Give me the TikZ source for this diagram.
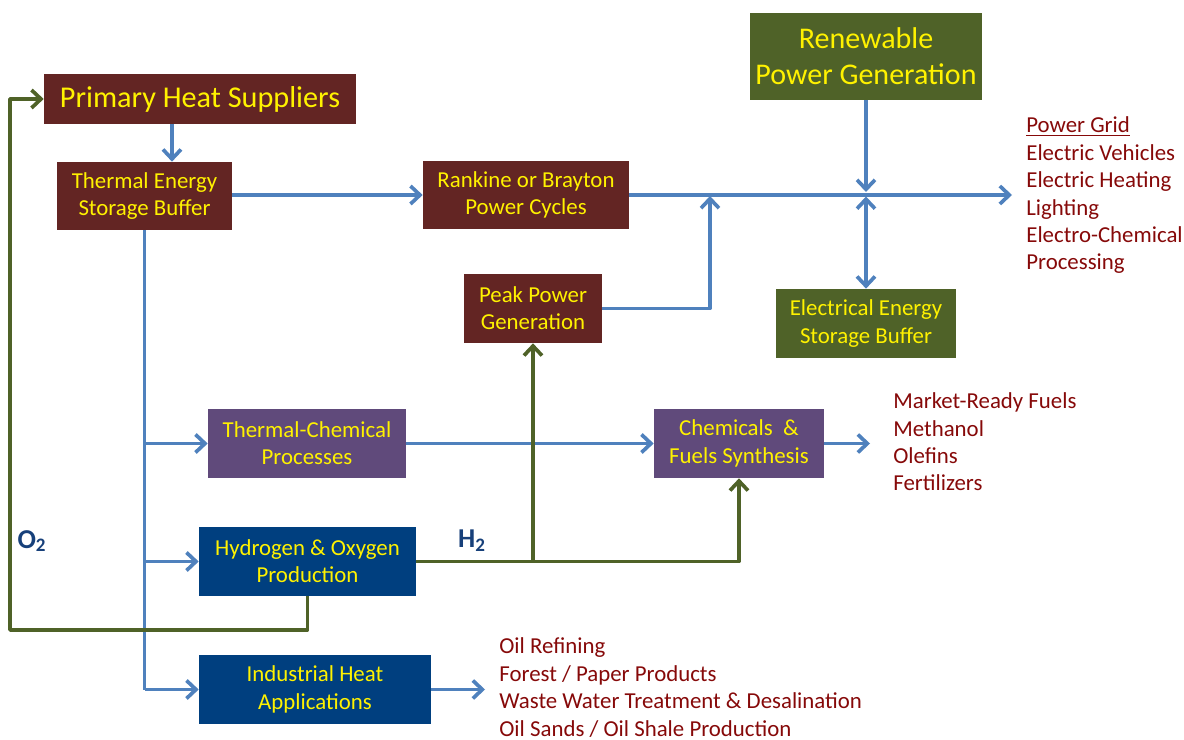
\documentclass[tikz,border=0pt]{standalone}
\usepackage{fontspec}
\setmainfont{Carlito}
\usepackage{xcolor}
\usetikzlibrary{arrows.meta}
\definecolor{maroon}{HTML}{632523}
\definecolor{olive}{HTML}{4F6228}
\definecolor{plum}{HTML}{604A7B}
\definecolor{navy}{HTML}{003F7F}
\definecolor{steel}{HTML}{4F81BD}
\definecolor{rust}{HTML}{860909}
\definecolor{ink}{HTML}{17407A}

\begin{document}
\begin{tikzpicture}[
  x=0.02cm, y=-0.02cm,
  every node/.style={rectangle, sharp corners, align=center},
  box/.style={text=yellow, inner sep=0pt, font=\fontsize{13}{15.5}\selectfont,
    minimum height=1.38cm},
  list/.style={text=rust, align=left, anchor=west, inner sep=0pt,
    font=\fontsize{13}{15.6}\selectfont},
  flow/.style={-{Straight Barb[length=1.9mm, width=3.6mm]}, line width=2.1pt, steel, line join=round},
  trunk/.style={line width=2.1pt, steel, line join=round},
  gasflow/.style={-{Straight Barb[length=1.9mm, width=3.6mm]}, line width=2.1pt, olive, line join=round},
  gas/.style={text=ink, font=\fontsize{15.5}{17}\selectfont\bfseries}
]
\useasboundingbox (0,0) rectangle (1184,740);

%% Row 0: heat source + renewables
\node[box, fill=maroon, minimum width=6.24cm, minimum height=1cm,
  font=\fontsize{17.2}{20}\selectfont] (primary) at (200,99) {Primary Heat Suppliers};

\node[box, fill=olive, minimum width=4.64cm, minimum height=1.74cm,
  font=\fontsize{17.1}{20.4}\selectfont] (renew) at (866,56.5) {Renewable\\Power Generation};

%% Row 1: buffers and power cycles
\node[box, fill=maroon, minimum width=3.5cm, minimum height=1.36cm] (tesb) at (144.5,196)
  {Thermal Energy\\Storage Buffer};

\node[box, fill=maroon, minimum width=4.12cm, minimum height=1.36cm] (rankine) at (526,195)
  {Rankine or Brayton\\Power Cycles};

\node[box, fill=maroon, minimum width=2.76cm] (peak) at (533,308.5) {Peak Power\\Generation};

\node[box, fill=olive, minimum width=3.6cm] (eesb) at (866,323.5)
  {Electrical Energy\\Storage Buffer};

%% Row 2: chemical side
\node[box, fill=plum, minimum width=3.96cm] (tcp) at (307,443.5) {Thermal-Chemical\\Processes};

\node[box, fill=plum, minimum width=3.4cm] (cfs) at (739,443.5) {Chemicals~~\&\\Fuels Synthesis};

%% Row 3: hydrogen and direct heat
\node[box, fill=navy, minimum width=4.34cm] (hop) at (307.5,561.5) {Hydrogen \& Oxygen\\Production};

\node[box, fill=navy, minimum width=4.64cm] (iha) at (315,689.5) {Industrial Heat\\Applications};

%% End uses
\node[list] (grid) at (1026,195.5) {\underline{Power Grid}\\Electric Vehicles\\Electric Heating\\Lighting\\Electro-Chemical\\Processing};

\node[list] (fuels) at (893,442) {Market-Ready Fuels\\Methanol\\Olefins\\Fertilizers};

\node[list] (oil) at (499,687.5) {Oil Refining\\Forest / Paper Products\\Waste Water Treatment \& Desalination\\Oil Sands / Oil Shale Production};

%% Gas labels
\node[gas] (otwo) at (32,541) {O\textsubscript{2}};
\node[gas] (htwo) at (472,541) {H\textsubscript{2}};

\coordinate (merge) at (710,196);
\coordinate (oxy) at (10,630);

%% Heat path
\draw[flow] ([xshift=0.55cm]tesb.north |- primary.south) -- ([xshift=0.55cm]tesb.north);
\draw[flow] (tesb.east |- rankine.east) -- (rankine.west);
\draw[flow, shorten >=0.28cm] (rankine.east) -- (rankine.east -| grid.west);
\draw[flow] (peak.east) -| (merge);

%% Renewables and electrical storage
\draw[flow, shorten >=0.06cm] (renew.south) -- (renew.south |- rankine.east);
\draw[{Straight Barb[length=1.9mm, width=3.6mm]}-{Straight Barb[length=1.9mm, width=3.6mm]},
  line width=2.1pt, steel, shorten <=0.03cm] (eesb.north |- rankine.east) -- (eesb.north);

%% Heat trunk to process boxes
\draw[trunk] (tesb.south) -- (tesb.south |- iha.west);
\draw[flow] (tesb.south |- tcp.west) -- (tcp.west);
\draw[flow] (tesb.south |- hop.west) -- (hop.west);
\draw[flow] (tesb.south |- iha.west) -- (iha.west);

\draw[flow] (tcp.east) -- (cfs.west);
\draw[flow, shorten >=0.46cm] (cfs.east) -- (cfs.east -| fuels.west);
\draw[flow, shorten >=0.28cm] (iha.east) -- (iha.east -| oil.west);

%% Hydrogen and oxygen lines
\draw[gasflow] (hop.east) -| (peak.south);
\draw[gasflow] (hop.east) -| (cfs.south);
\draw[gasflow] (hop.south) |- (oxy) |- (primary.west);

\end{tikzpicture}
\end{document}
